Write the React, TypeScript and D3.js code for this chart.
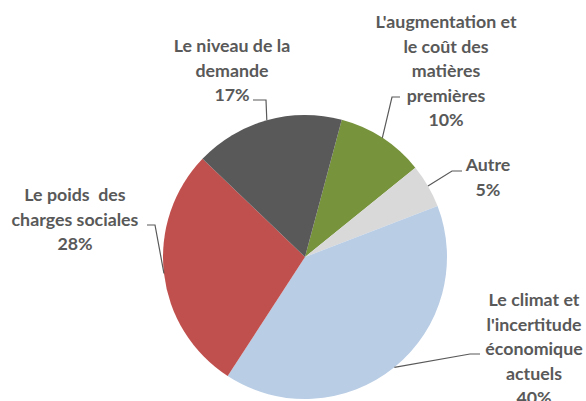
import React from 'react';
import * as d3 from 'd3';

// slices in clockwise order, starting just right of 12 o'clock
const categories = [
  "L'augmentation et le coût des matières premières",
  'Autre',
  "Le climat et l'incertitude économique actuels",
  'Le poids  des charges sociales',
  'Le niveau de la demande',
];
const values = [10, 5, 40, 28, 17];
const colors = ['#77933C', '#D9D9D9', '#B9CDE5', '#C0504D', '#595959'];
const labelLines = [
  ["L'augmentation et", 'le coût des', 'matières', 'premières'],
  ['Autre'],
  ['Le climat et', "l'incertitude", 'économique', 'actuels'],
  ['Le poids  des', 'charges sociales'],
  ['Le niveau de la', 'demande'],
];

const width = 586;
const height = 401;
const cx = 305;
const cy = 257;
const radius = 142;
const startDeg = 15;
const lineH = 24.5;

// label placement: text centre x, first baseline y, leader start and elbow
const labelLayout = [
  { x: 446, y: 28, lx: 400, ly: 97, ex: 392 },
  { x: 488, y: 171, lx: 462, ly: 171, ex: 452 },
  { x: 534, y: 306, lx: 480, ly: 354, ex: 470 },
  { x: 75, y: 201, lx: 147, ly: 225, ex: 155 },
  { x: 232, y: 52, lx: 253, ly: 100, ex: 266 },
];

export default function App() {
  const start = (startDeg * Math.PI) / 180;
  const pie = d3.pie<number>().sort(null).startAngle(start).endAngle(start + 2 * Math.PI);
  const arcs = pie(values);
  const arc = d3.arc<d3.PieArcDatum<number>>().innerRadius(0).outerRadius(radius);
  const total = d3.sum(values);

  return (
    <svg width={width} height={height} style={{ position: 'absolute', left: 0, top: 0, background: '#fff' }}>
      <g transform={`translate(${cx},${cy})`}>
        {arcs.map((a, i) => (
          <path key={categories[i]} d={arc(a) || ''} fill={colors[i]} />
        ))}
      </g>
      {arcs.map((a, i) => {
        const mid = (a.startAngle + a.endAngle) / 2;
        const px = cx + radius * Math.sin(mid);
        const py = cy - radius * Math.cos(mid);
        const L = labelLayout[i];
        const lines = [...labelLines[i], `${Math.round((values[i] / total) * 100)}%`];
        return (
          <g key={'lab' + i}>
            <polyline
              points={`${L.lx},${L.ly} ${L.ex},${L.ly} ${px},${py}`}
              fill="none"
              stroke="#595959"
              strokeWidth={1.2}
            />
            <text
              x={L.x}
              y={L.y}
              textAnchor="middle"
              fill="#595959"
              fontFamily="Lato, 'Open Sans', sans-serif"
              fontWeight="bold"
              fontSize={17.8}
              style={{ whiteSpace: 'pre' }}
            >
              {lines.map((t, j) => (
                <tspan key={j} x={L.x} y={L.y + j * lineH}>
                  {t}
                </tspan>
              ))}
            </text>
          </g>
        );
      })}
    </svg>
  );
}
